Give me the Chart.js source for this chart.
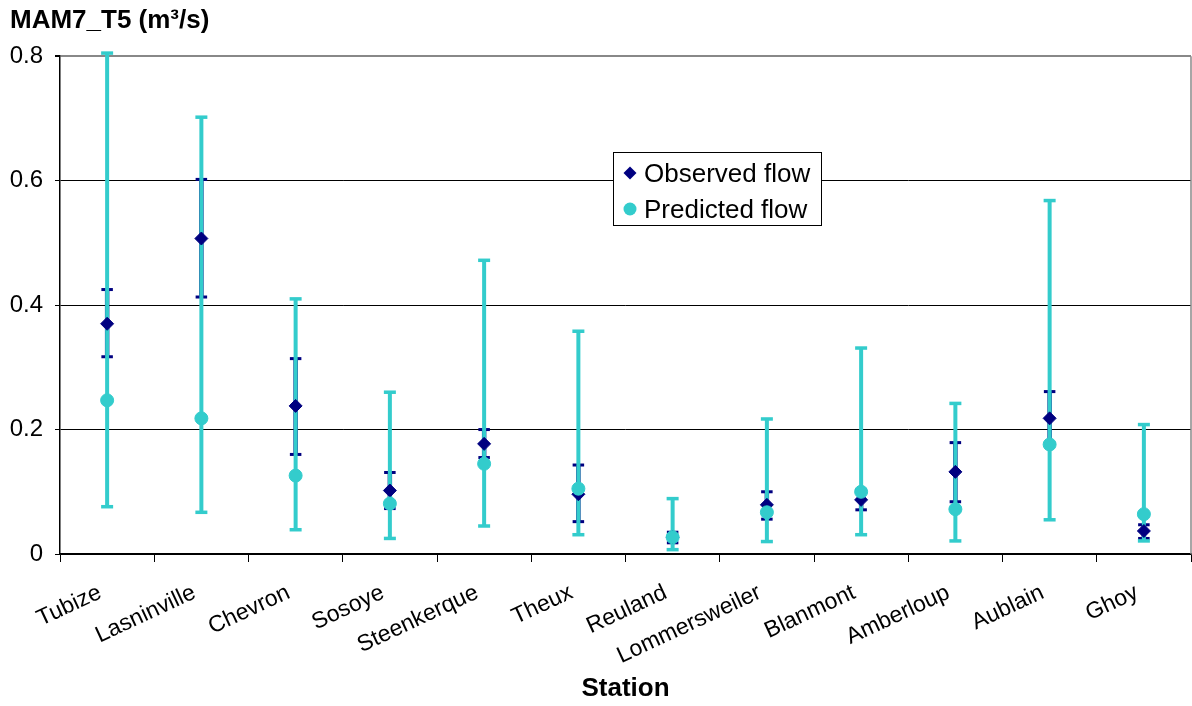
<!DOCTYPE html>
<html>
<head>
<meta charset="utf-8">
<title>MAM7_T5</title>
<script src="https://cdn.jsdelivr.net/npm/chart.js@4/dist/chart.umd.min.js"></script>
<style>
  html, body { margin: 0; padding: 0; background: #fff; }
  #wrap { width: 1192px; height: 706px; }
</style>
</head>
<body>
<div id="wrap"><canvas id="graphique" width="1192" height="706"></canvas></div>
<script>
// stations and flows (m3/s)
const stations = ['Tubize', 'Lasninville', 'Chevron', 'Sosoye', 'Steenkerque', 'Theux',
  'Reuland', 'Lommersweiler', 'Blanmont', 'Amberloup', 'Aublain', 'Ghoy'];

const observed = [0.370, 0.507, 0.238, 0.102, 0.177, 0.096, 0.027, 0.079, 0.087, 0.132, 0.218, 0.037];
const obsLow   = [0.317, 0.413, 0.160, 0.073, 0.155, 0.052, 0.018, 0.056, 0.071, 0.084, 0.178, 0.025];
const obsHigh  = [0.425, 0.602, 0.314, 0.131, 0.200, 0.143, 0.035, 0.100, 0.103, 0.179, 0.261, 0.047];

const predicted = [0.247, 0.218, 0.126, 0.081, 0.145, 0.105, 0.027, 0.067, 0.100, 0.072, 0.176, 0.064];
const predLow   = [0.076, 0.067, 0.039, 0.025, 0.045, 0.031, 0.007, 0.020, 0.031, 0.021, 0.055, 0.021];
const predHigh  = [0.805, 0.702, 0.410, 0.260, 0.472, 0.358, 0.089, 0.217, 0.331, 0.242, 0.568, 0.208];

const yTickLabels = ['0', '0.2', '0.4', '0.6', '0.8'];

const NAVY = '#000080';
const CYAN = '#33CCCC';
const FONT = "'Liberation Sans', Arial, sans-serif";

// vertical bars with caps, drawn before the points
const errorBars = {
  id: 'errorBars',
  beforeDatasetsDraw(chart) {
    const { ctx, chartArea, scales: { x, y } } = chart;

    // plot frame on the right side
    ctx.save();
    ctx.strokeStyle = '#888';
    ctx.lineWidth = 1.5;
    ctx.beginPath();
    ctx.moveTo(chartArea.right, chartArea.top);
    ctx.lineTo(chartArea.right, chartArea.bottom);
    ctx.stroke();
    ctx.restore();

    const drawSet = (low, high, color, lineW, capW, capH) => {
      ctx.save();
      ctx.strokeStyle = color;
      ctx.fillStyle = color;
      ctx.lineWidth = lineW;
      stations.forEach((s, i) => {
        const px = x.getPixelForValue(i);
        const yLo = y.getPixelForValue(low[i]);
        const yHi = y.getPixelForValue(high[i]);
        ctx.beginPath();
        ctx.moveTo(px, yLo);
        ctx.lineTo(px, yHi);
        ctx.stroke();
        ctx.fillRect(px - capW / 2, yLo - capH / 2, capW, capH);
        ctx.fillRect(px - capW / 2, yHi - capH / 2, capW, capH);
      });
      ctx.restore();
    };
    drawSet(obsLow, obsHigh, NAVY, 4.4, 11.5, 3);
    drawSet(predLow, predHigh, CYAN, 4, 12, 3.5);
  }
};

// legend box inside the plot
const boxLegend = {
  id: 'boxLegend',
  afterDraw(chart) {
    const { ctx } = chart;
    const bx = 613, by = 152, bw = 208, bh = 73;
    ctx.save();
    ctx.fillStyle = '#fff';
    ctx.fillRect(bx, by, bw, bh);
    ctx.strokeStyle = '#000';
    ctx.lineWidth = 1;
    ctx.strokeRect(bx + 0.5, by + 0.5, bw, bh);
    ctx.font = '26px ' + FONT;
    ctx.textBaseline = 'alphabetic';
    chart.data.datasets.forEach((ds, i) => {
      const cx = bx + 17;
      const cy = by + 21 + i * 36;
      ctx.fillStyle = ds.backgroundColor;
      ctx.beginPath();
      if (ds.pointStyle === 'circle') {
        ctx.arc(cx, cy, 6.5, 0, Math.PI * 2);
      } else {
        ctx.moveTo(cx - 6.5, cy);
        ctx.lineTo(cx, cy - 6.5);
        ctx.lineTo(cx + 6.5, cy);
        ctx.lineTo(cx, cy + 6.5);
        ctx.closePath();
      }
      ctx.fill();
      ctx.fillStyle = '#000';
      ctx.fillText(ds.label, bx + 31, cy + 8.5);
    });
    ctx.restore();
  }
};

const ctx = document.getElementById('graphique').getContext('2d');

new Chart(ctx, {
  type: 'line',
  data: {
    labels: stations,
    datasets: [
      {
        label: 'Observed flow',
        data: observed,
        showLine: false,
        pointStyle: 'rectRot',
        pointRadius: 6.5,
        pointBorderWidth: 1,
        backgroundColor: NAVY,
        borderColor: NAVY,
        order: 1
      },
      {
        label: 'Predicted flow',
        data: predicted,
        showLine: false,
        pointStyle: 'circle',
        pointRadius: 6.5,
        pointBorderWidth: 1,
        backgroundColor: CYAN,
        borderColor: CYAN,
        order: 0
      }
    ]
  },
  options: {
    responsive: false,
    animation: false,
    events: [],
    layout: { autoPadding: false, padding: { left: 10, right: 1, top: 0, bottom: 0 } },
    plugins: {
      legend: { display: false },
      tooltip: { enabled: false },
      title: {
        display: true,
        text: 'MAM7_T5 (m³/s)',
        align: 'start',
        color: '#000',
        font: { family: FONT, size: 26, weight: 'bold', lineHeight: 1.2 },
        padding: { top: 5, bottom: 20 }
      }
    },
    scales: {
      x: {
        offset: true,
        grid: {
          offset: true,
          drawOnChartArea: false,
          drawTicks: true,
          tickLength: 8,
          color: '#000'
        },
        border: { display: true, color: '#000', width: 1.5 },
        ticks: {
          autoSkip: false,
          minRotation: 25,
          maxRotation: 25,
          padding: 17,
          labelOffset: -7,
          color: '#000',
          font: { family: FONT, size: 23 }
        },
        title: {
          display: true,
          text: 'Station',
          color: '#000',
          font: { family: FONT, size: 26, weight: 'bold', lineHeight: 1.2 },
          padding: { top: 0, bottom: 2 }
        },
        afterFit(scale) {
          scale.height = 152;
          // the rotated labels end at the tick, so no side padding is needed
          scale.paddingLeft = 0;
          scale.paddingRight = 0;
        }
      },
      y: {
        min: 0,
        max: 0.8,
        grid: {
          color: (c) => (c.tick && c.tick.value >= 0.79 ? '#888' : '#000'),
          lineWidth: (c) => (c.tick && c.tick.value >= 0.79 ? 2 : 1),
          tickColor: '#000',
          drawTicks: true,
          tickLength: 5
        },
        border: { display: true, color: '#000', width: 1.5 },
        ticks: {
          stepSize: 0.2,
          padding: 12,
          color: '#000',
          font: { family: FONT, size: 24 },
          callback: (v, i) => yTickLabels[i]
        },
        afterFit(scale) {
          scale.width = 50;
          scale.paddingTop = 0;
          scale.paddingBottom = 0;
        }
      }
    }
  },
  plugins: [errorBars, boxLegend]
});
</script>
</body>
</html>
